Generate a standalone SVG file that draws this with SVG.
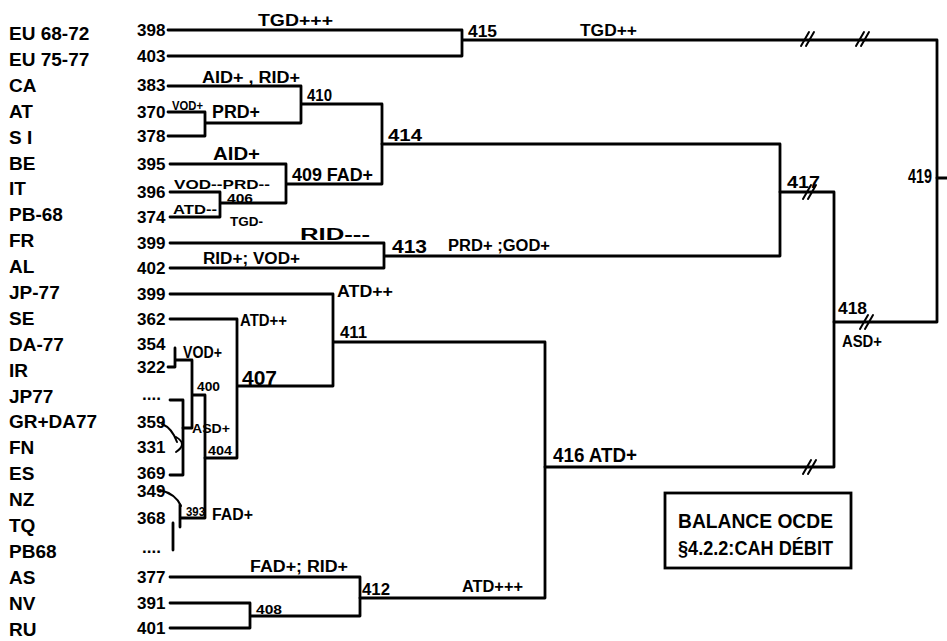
<svg xmlns="http://www.w3.org/2000/svg" width="947" height="641" viewBox="0 0 947 641">
<style>
  .lbl{font-family:"Liberation Sans",Arial,sans-serif;font-weight:bold;font-size:19px;fill:#000}
  .num{font-family:"Liberation Sans",Arial,sans-serif;font-weight:bold;font-size:17px;fill:#000}
  .ann{font-family:"Liberation Sans",Arial,sans-serif;font-weight:bold;font-size:16px;fill:#000}
  .sm{font-family:"Liberation Sans",Arial,sans-serif;font-weight:bold;font-size:12px;fill:#000}
  .big{font-family:"Liberation Sans",Arial,sans-serif;font-weight:bold;font-size:18px;fill:#000}
  .huge{font-family:"Liberation Sans",Arial,sans-serif;font-weight:bold;font-size:20px;fill:#000}
  .ln{fill:none;stroke:#000;stroke-width:2.8;stroke-linecap:round;stroke-linejoin:round}
  .thin{fill:none;stroke:#000;stroke-width:2;stroke-linecap:round}
  .box{fill:#fff;stroke:#000;stroke-width:2.8}
</style>
<rect width="947" height="641" fill="#fff"/>

<g id="connectors">
  <path class="ln" d="M168,30 H462 V56 H168 M462,40 H937 V322 H834"/>
  <path class="thin" d="M801,46 L809,32 M806,46 L814,32 M856,46 L864,32 M861,46 L869,32"/>
  <path class="ln" d="M937,178 H947"/>
  <path class="ln" d="M168,86 H301 V123 H205 M168,112 H205 V136 H168 M301,104 H382 V184 H286 M170,164 H286 V203 H220 M170,192 H220 V217 H170"/>
  <path class="ln" d="M382,144 H780 V256 H384 M170,243 H384 V268 H170"/>
  <path class="ln" d="M780,192 H834 V467 H545"/>
  <path class="thin" d="M803,199 L811,185 M808,199 L816,185 M860,329 L868,315 M865,329 L873,315 M803,474 L811,460 M808,474 L816,460"/>
  <path class="ln" d="M170,294 H333 V386 H237 M333,342 H545 V598 H360 M170,319 H237 V458 H205"/>
  <path class="ln" d="M175,348 V367 M168,367 H175 M175,360 H192 V428 H183 M192,395 H205 V518 H180 M180,505 V527 M173,523 V550"/>
  <path class="ln" d="M170,400 H183 V475 H170"/>
  <path class="thin" d="M162,424 Q172,428 177,442 M176,437 Q188,444 176,452 M160,490 Q176,494 181,506"/>
  <path class="ln" d="M170,577 H360 V616 H250 M170,603 H250 V628 H170"/>
</g>

<g id="leaf-EU68-72"><text class="lbl" x="9" y="40">EU 68-72</text><text class="num" x="137" y="36">398</text></g>
<g id="leaf-EU75-77"><text class="lbl" x="9" y="66">EU 75-77</text><text class="num" x="137" y="62">403</text></g>
<g id="leaf-CA"><text class="lbl" x="9" y="92">CA</text><text class="num" x="137" y="91">383</text></g>
<g id="leaf-AT"><text class="lbl" x="9" y="118">AT</text><text class="num" x="137" y="118">370</text></g>
<g id="leaf-SI"><text class="lbl" x="9" y="144">S I</text><text class="num" x="137" y="142">378</text></g>
<g id="leaf-BE"><text class="lbl" x="9" y="170">BE</text><text class="num" x="137" y="170">395</text></g>
<g id="leaf-IT"><text class="lbl" x="9" y="195">IT</text><text class="num" x="137" y="198">396</text></g>
<g id="leaf-PB-68"><text class="lbl" x="9" y="221">PB-68</text><text class="num" x="137" y="223">374</text></g>
<g id="leaf-FR"><text class="lbl" x="9" y="247">FR</text><text class="num" x="137" y="249">399</text></g>
<g id="leaf-AL"><text class="lbl" x="9" y="273">AL</text><text class="num" x="137" y="274">402</text></g>
<g id="leaf-JP-77"><text class="lbl" x="9" y="299">JP-77</text><text class="num" x="137" y="300">399</text></g>
<g id="leaf-SE"><text class="lbl" x="9" y="325">SE</text><text class="num" x="137" y="325">362</text></g>
<g id="leaf-DA-77"><text class="lbl" x="9" y="351">DA-77</text><text class="num" x="137" y="350">354</text></g>
<g id="leaf-IR"><text class="lbl" x="9" y="377">IR</text><text class="num" x="137" y="373">322</text></g>
<g id="leaf-JP77"><text class="lbl" x="9" y="403">JP77</text><text class="num" x="142" y="400">....</text></g>
<g id="leaf-GR-DA77"><text class="lbl" x="9" y="428">GR+DA77</text><text class="num" x="137" y="428">359</text></g>
<g id="leaf-FN"><text class="lbl" x="9" y="454">FN</text><text class="num" x="137" y="453">331</text></g>
<g id="leaf-ES"><text class="lbl" x="9" y="480">ES</text><text class="num" x="137" y="479">369</text></g>
<g id="leaf-NZ"><text class="lbl" x="9" y="506">NZ</text><text class="num" x="137" y="497">349</text></g>
<g id="leaf-TQ"><text class="lbl" x="9" y="532">TQ</text><text class="num" x="137" y="524">368</text></g>
<g id="leaf-PB68"><text class="lbl" x="9" y="558">PB68</text><text class="num" x="142" y="553">....</text></g>
<g id="leaf-AS"><text class="lbl" x="9" y="584">AS</text><text class="num" x="137" y="583">377</text></g>
<g id="leaf-NV"><text class="lbl" x="9" y="610">NV</text><text class="num" x="137" y="609">391</text></g>
<g id="leaf-RU"><text class="lbl" x="9" y="636">RU</text><text class="num" x="137" y="634">401</text></g>

<g id="node-EU"><text class="ann" x="258" y="26" textLength="75" lengthAdjust="spacingAndGlyphs">TGD+++</text></g>
<g id="node-415"><text class="ann" x="468" y="37" textLength="29" lengthAdjust="spacingAndGlyphs">415</text><text class="ann" x="580" y="36" textLength="57" lengthAdjust="spacingAndGlyphs">TGD++</text></g>
<g id="node-CA-join"><text class="ann" x="202" y="83" textLength="98" lengthAdjust="spacingAndGlyphs">AID+ , RID+</text></g>
<g id="node-AT-SI"><text class="sm" x="172" y="110" textLength="31" lengthAdjust="spacingAndGlyphs">VOD+</text><text class="big" x="212" y="118" textLength="48" lengthAdjust="spacingAndGlyphs">PRD+</text></g>
<g id="node-410"><text class="ann" x="307" y="101" textLength="25" lengthAdjust="spacingAndGlyphs">410</text></g>
<g id="node-BE-join"><text class="big" x="213" y="160" textLength="47" lengthAdjust="spacingAndGlyphs">AID+</text></g>
<g id="node-406"><text class="sm" x="174" y="189" textLength="96" lengthAdjust="spacingAndGlyphs">VOD--PRD--</text><text class="sm" x="227" y="203" textLength="26" lengthAdjust="spacingAndGlyphs">406</text><text class="sm" x="173" y="214" textLength="44" lengthAdjust="spacingAndGlyphs">ATD--</text><text class="sm" x="230" y="226" textLength="33" lengthAdjust="spacingAndGlyphs">TGD-</text></g>
<g id="node-409"><text class="big" x="292" y="181" textLength="81" lengthAdjust="spacingAndGlyphs">409 FAD+</text></g>
<g id="node-414"><text class="ann" x="388" y="141" textLength="34" lengthAdjust="spacingAndGlyphs">414</text></g>
<g id="node-FR-AL"><text class="ann" x="300" y="240" textLength="70" lengthAdjust="spacingAndGlyphs">RID---</text><text class="ann" x="203" y="264" textLength="97" lengthAdjust="spacingAndGlyphs">RID+; VOD+</text></g>
<g id="node-413"><text class="big" x="392" y="253" textLength="35" lengthAdjust="spacingAndGlyphs">413</text><text class="ann" x="448" y="251" textLength="102" lengthAdjust="spacingAndGlyphs">PRD+ ;GOD+</text></g>
<g id="node-417"><text class="ann" x="787" y="188" textLength="33" lengthAdjust="spacingAndGlyphs">417</text></g>
<g id="node-418"><text class="ann" x="838" y="314" textLength="29" lengthAdjust="spacingAndGlyphs">418</text><text class="ann" x="842" y="347" textLength="40" lengthAdjust="spacingAndGlyphs">ASD+</text></g>
<g id="node-419"><text class="huge" x="908" y="183" textLength="24" lengthAdjust="spacingAndGlyphs">419</text></g>
<g id="node-JP-77-join"><text class="ann" x="337" y="297" textLength="56" lengthAdjust="spacingAndGlyphs">ATD++</text></g>
<g id="node-SE-join"><text class="ann" x="240" y="326" textLength="47" lengthAdjust="spacingAndGlyphs">ATD++</text></g>
<g id="node-411"><text class="ann" x="340" y="338" textLength="27" lengthAdjust="spacingAndGlyphs">411</text></g>
<g id="node-DA-IR"><text class="ann" x="183" y="358" textLength="39" lengthAdjust="spacingAndGlyphs">VOD+</text></g>
<g id="node-400"><text class="sm" x="197" y="391" textLength="23" lengthAdjust="spacingAndGlyphs">400</text><text class="sm" x="192" y="433" textLength="38" lengthAdjust="spacingAndGlyphs">ASD+</text></g>
<g id="node-407"><text class="huge" x="242" y="385" textLength="35" lengthAdjust="spacingAndGlyphs">407</text></g>
<g id="node-404"><text class="sm" x="208" y="455" textLength="24" lengthAdjust="spacingAndGlyphs">404</text></g>
<g id="node-393"><text class="sm" x="186" y="516" textLength="19" lengthAdjust="spacingAndGlyphs">393</text><text class="ann" x="212" y="520" textLength="41" lengthAdjust="spacingAndGlyphs">FAD+</text></g>
<g id="node-AS-join"><text class="ann" x="250" y="572" textLength="98" lengthAdjust="spacingAndGlyphs">FAD+; RID+</text></g>
<g id="node-408"><text class="sm" x="256" y="614" textLength="26" lengthAdjust="spacingAndGlyphs">408</text></g>
<g id="node-412"><text class="ann" x="362" y="595" textLength="28" lengthAdjust="spacingAndGlyphs">412</text><text class="ann" x="462" y="592" textLength="61" lengthAdjust="spacingAndGlyphs">ATD+++</text></g>
<g id="node-416"><text class="huge" x="553" y="462" textLength="84" lengthAdjust="spacingAndGlyphs">416 ATD+</text></g>

<g id="legend">
  <rect class="box" x="665" y="493" width="186" height="75"/>
  <text class="huge" x="678" y="528" textLength="155" lengthAdjust="spacingAndGlyphs">BALANCE  OCDE</text>
  <text class="huge" x="678" y="555" textLength="155" lengthAdjust="spacingAndGlyphs">§4.2.2:CAH  DÉBIT</text>
</g>
</svg>
